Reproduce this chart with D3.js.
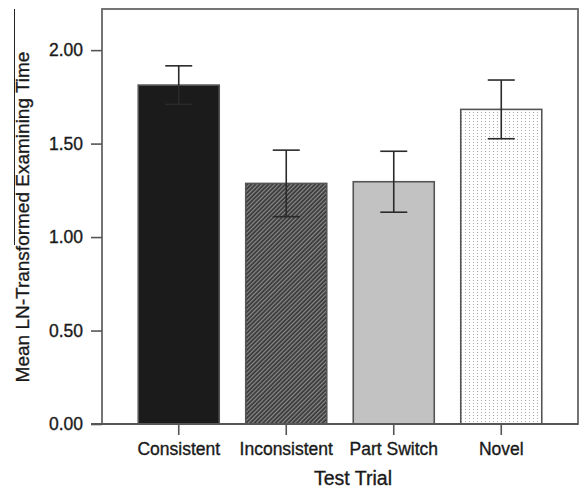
<!DOCTYPE html>
<html>
<head>
<meta charset="utf-8">
<script src="https://cdn.jsdelivr.net/npm/d3@7/dist/d3.min.js"></script>
<style>
  html, body { margin: 0; padding: 0; background: #fff; }
  svg { display: block; font-family: "Liberation Sans", Arial, sans-serif; }
  text { stroke: #1a1a1a; stroke-width: 0.35px; }
</style>
</head>
<body>
<script>
const categories = ["Consistent", "Inconsistent", "Part Switch", "Novel"];
const means = [1.813, 1.287, 1.296, 1.683];
const errors = [0.103, 0.178, 0.163, 0.157];
const yTicks = [0, 0.5, 1.0, 1.5, 2.0];
const fills = ["#1b1b1b", "url(#hatch)", "#c2c2c2", "url(#dots)"];

const W = 580, H = 490;
const svg = d3.select("body").append("svg").attr("width", W).attr("height", H);

const defs = svg.append("defs");
const hatch = defs.append("pattern").attr("id", "hatch")
  .attr("patternUnits", "userSpaceOnUse").attr("width", 3).attr("height", 3)
  .attr("patternTransform", "rotate(45)");
hatch.append("rect").attr("width", 3).attr("height", 3).attr("fill", "#383838");
hatch.append("rect").attr("x", 0).attr("width", 1.2).attr("height", 3).attr("fill", "#8c8c8c");

const dots = defs.append("pattern").attr("id", "dots")
  .attr("patternUnits", "userSpaceOnUse").attr("width", 4).attr("height", 3);
dots.append("rect").attr("width", 4).attr("height", 3).attr("fill", "#ffffff");
dots.append("rect").attr("x", 1).attr("y", 1).attr("width", 1).attr("height", 1).attr("fill", "#a8a8a8");

const pLeft = 102, pRight = 578, pTop = 9, pBottom = 424;

const x = d3.scaleBand().domain(categories).range([pLeft, pRight])
  .paddingInner(0.2465).paddingOuter(0.337);
const y = d3.scaleLinear().domain([0, 2.22]).range([pBottom, pTop]);

// stray line artifact at far left
svg.append("line").attr("x1", 14.5).attr("x2", 14.5).attr("y1", pTop).attr("y2", 245)
  .attr("stroke", "#222").attr("stroke-width", 1);

// frame
svg.append("rect").attr("x", pLeft).attr("y", pTop).attr("width", pRight - pLeft).attr("height", pBottom - pTop)
  .attr("fill", "none").attr("stroke", "#666").attr("stroke-width", 1.8);

// bars
svg.selectAll(".bar").data(categories).enter().append("rect")
  .attr("class", "bar")
  .attr("x", d => x(d)).attr("width", x.bandwidth())
  .attr("y", (d, i) => y(means[i])).attr("height", (d, i) => y(0) - y(means[i]))
  .attr("fill", (d, i) => fills[i]).attr("stroke", "#555").attr("stroke-width", 1.6);

// error bars
const cap = 13.5;
categories.forEach((c, i) => {
  const cx = x(c) + x.bandwidth() / 2;
  const g = svg.append("g").attr("stroke", "#2a2a2a").attr("stroke-width", 1.6);
  g.append("line").attr("x1", cx).attr("x2", cx).attr("y1", y(means[i] + errors[i])).attr("y2", y(means[i] - errors[i]));
  g.append("line").attr("x1", cx - cap).attr("x2", cx + cap).attr("y1", y(means[i] + errors[i])).attr("y2", y(means[i] + errors[i]));
  g.append("line").attr("x1", cx - cap).attr("x2", cx + cap).attr("y1", y(means[i] - errors[i])).attr("y2", y(means[i] - errors[i]));
});

// y axis
const yAxis = svg.append("g").attr("transform", `translate(${pLeft},0)`)
  .call(d3.axisLeft(y).tickValues(yTicks).tickFormat(d3.format(".2f")).tickSize(11).tickPadding(8));
yAxis.select(".domain").remove();
yAxis.selectAll(".tick line").attr("stroke", "#555").attr("stroke-width", 1.6);
yAxis.selectAll(".tick text").attr("font-size", 17.5).attr("fill", "#1a1a1a")
  .attr("font-family", "Liberation Sans, Arial, sans-serif");

// x axis
const xAxis = svg.append("g").attr("transform", `translate(0,${pBottom})`)
  .call(d3.axisBottom(x).tickSize(11).tickPadding(8));
xAxis.select(".domain").remove();
xAxis.selectAll(".tick line").attr("stroke", "#555").attr("stroke-width", 1.6);
xAxis.selectAll(".tick text").attr("font-size", 17.5).attr("fill", "#1a1a1a")
  .attr("font-family", "Liberation Sans, Arial, sans-serif");

// bottom axis line extended left
svg.append("line").attr("x1", 91).attr("x2", pRight).attr("y1", pBottom).attr("y2", pBottom)
  .attr("stroke", "#555").attr("stroke-width", 1.8);

// titles
svg.append("text").attr("x", 353).attr("y", 485)
  .attr("text-anchor", "middle").attr("font-size", 19.5).attr("fill", "#1a1a1a")
  .text("Test Trial");
svg.append("text").attr("transform", "translate(29,217) rotate(-90)")
  .attr("text-anchor", "middle").attr("font-size", 19).attr("fill", "#1a1a1a")
  .text("Mean LN-Transformed Examining Time");
</script>
</body>
</html>
